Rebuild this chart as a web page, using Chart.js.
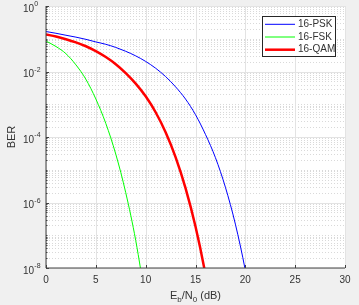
<!DOCTYPE html>
<html>
<head>
<meta charset="utf-8">
<script src="https://cdn.jsdelivr.net/npm/chart.js@4.4.0/dist/chart.umd.min.js"></script>
<style>
  html, body { margin: 0; padding: 0; background: #f0f0f0; }
  #wrap { width: 359px; height: 305px; }
</style>
</head>
<body>
<div id="wrap"><canvas id="ber-chart" width="359" height="305"></canvas></div>
<script>
// Eb/N0 (dB) grids for each curve
const ebnoPsk = [0, 1, 2, 3, 4, 5, 6, 7, 8, 9, 10, 11, 12, 13, 14, 15, 16, 17, 18, 19, 20, 21];
const ebnoFsk = [0, 1, 2, 3, 4, 5, 6, 7, 8, 9, 10];
const ebnoQam = [0, 1, 2, 3, 4, 5, 6, 7, 8, 9, 10, 11, 12, 13, 14, 15, 16, 17];

// BER values
const berPsk = [0.166, 0.147, 0.128, 0.112, 0.096, 0.080, 0.0677, 0.0543, 0.0414, 0.0300,
  0.0203, 0.0126, 7.0e-3, 3.4e-3, 1.44e-3, 4.8e-4, 1.2e-4, 2.34e-5, 2.93e-6, 2.19e-7,
  8.5e-9, 1.5e-10];
const berFsk = [0.085, 0.058, 0.035, 0.016, 5.8e-3, 1.45e-3, 2.6e-4, 3.0e-5, 2.0e-6, 7.0e-8, 1.0e-9];
const berQam = [0.135, 0.117, 0.097, 0.0776, 0.059, 0.042, 0.0276, 0.0167, 8.96e-3, 4.27e-3,
  1.75e-3, 5.7e-4, 1.39e-4, 2.43e-5, 2.76e-6, 1.84e-7, 6.3e-9, 9.0e-11];

const seriesNames = ["16-PSK", "16-FSK", "16-QAM"];
const seriesColors = ["#0000ff", "#00ff00", "#ff0000"];
const seriesWidths = [1, 1, 2.5];

// axis ticks
const xTicks = [0, 5, 10, 15, 20, 25, 30];
const yTickExps = [0, -2, -4, -6, -8];

const FONT = "'Liberation Sans', Arial, Helvetica, sans-serif";
const TEXT = "#333333";

function toPoints(xs, ys) {
  return xs.map((x, i) => ({ x, y: ys[i] }));
}

const matlabAxes = {
  id: "matlabAxes",
  beforeDraw(chart) {
    const { ctx, chartArea: a } = chart;
    ctx.save();
    ctx.fillStyle = "#f0f0f0";
    ctx.fillRect(0, 0, chart.width, chart.height);
    ctx.fillStyle = "#ffffff";
    ctx.fillRect(a.left, a.top, a.right - a.left, a.bottom - a.top);
    ctx.restore();
  },
  beforeDatasetsDraw(chart) {
    const { ctx, chartArea: a, scales } = chart;
    const sx = scales.x, sy = scales.y;
    ctx.save();
    // minor y grid (dotted)
    ctx.strokeStyle = "#d9d9d9";
    ctx.lineWidth = 1;
    ctx.setLineDash([1, 2]);
    for (let k = -8; k < 0; k++) {
      for (let m = 1; m <= 9; m++) {
        if (m === 1 && yTickExps.includes(k)) continue;
        const y = Math.round(sy.getPixelForValue(m * Math.pow(10, k))) + 0.5;
        ctx.beginPath();
        ctx.moveTo(a.left, y);
        ctx.lineTo(a.right, y);
        ctx.stroke();
      }
    }
    // major grid
    ctx.setLineDash([]);
    ctx.strokeStyle = "#e3e3e3";
    yTickExps.forEach((e) => {
      const y = Math.round(sy.getPixelForValue(Math.pow(10, e))) + 0.5;
      ctx.beginPath();
      ctx.moveTo(a.left, y);
      ctx.lineTo(a.right, y);
      ctx.stroke();
    });
    xTicks.forEach((t) => {
      const x = Math.round(sx.getPixelForValue(t)) + 0.5;
      ctx.beginPath();
      ctx.moveTo(x, a.top);
      ctx.lineTo(x, a.bottom);
      ctx.stroke();
    });
    ctx.restore();
  },
  afterDatasetsDraw(chart) {
    const { ctx, chartArea: a, scales } = chart;
    const sx = scales.x, sy = scales.y;
    ctx.save();

    // axis lines
    ctx.strokeStyle = "#404040";
    ctx.lineWidth = 1;
    ctx.beginPath();
    ctx.moveTo(a.left, a.top);
    ctx.lineTo(a.left, a.bottom);
    ctx.lineTo(a.right, a.bottom);
    ctx.stroke();

    // tick marks (inward)
    ctx.beginPath();
    xTicks.forEach((t) => {
      const x = Math.round(sx.getPixelForValue(t)) + 0.5;
      ctx.moveTo(x, a.bottom);
      ctx.lineTo(x, a.bottom - 3);
    });
    for (let k = -8; k <= 0; k++) {
      for (let m = 1; m <= 9; m++) {
        const v = m * Math.pow(10, k);
        if (v > 1) break;
        const y = Math.round(sy.getPixelForValue(v)) + 0.5;
        const major = m === 1 && yTickExps.includes(k);
        ctx.moveTo(a.left, y);
        ctx.lineTo(a.left + (major ? 3 : 1.5), y);
      }
    }
    ctx.stroke();

    // x tick labels
    ctx.fillStyle = TEXT;
    ctx.font = `10px ${FONT}`;
    ctx.textAlign = "center";
    ctx.textBaseline = "middle";
    xTicks.forEach((t) => {
      ctx.fillText(String(t), sx.getPixelForValue(t), a.bottom + 12);
    });

    // y tick labels 10^e
    yTickExps.forEach((e) => {
      const y = sy.getPixelForValue(Math.pow(10, e));
      ctx.font = `10px ${FONT}`;
      ctx.textAlign = "right";
      ctx.fillText("10", 34, y + 3);
      ctx.font = `7px ${FONT}`;
      ctx.textAlign = "left";
      ctx.fillText(String(e), 34.3, y - 1.5);
    });

    // x axis title: E_b/N_0 (dB)
    const parts = [["E", false], ["b", true], ["/N", false], ["0", true], [" (dB)", false]];
    const fontFor = (sub) => (sub ? `8px ${FONT}` : `11px ${FONT}`);
    let total = 0;
    parts.forEach(([s, sub]) => { ctx.font = fontFor(sub); total += ctx.measureText(s).width; });
    let cx = (a.left + a.right) / 2 - total / 2;
    ctx.textAlign = "left";
    parts.forEach(([s, sub]) => {
      ctx.font = fontFor(sub);
      ctx.fillText(s, cx, sub ? 300 : 296);
      cx += ctx.measureText(s).width;
    });

    // y axis title
    ctx.save();
    ctx.translate(12, (a.top + a.bottom) / 2);
    ctx.rotate(-Math.PI / 2);
    ctx.font = `11px ${FONT}`;
    ctx.textAlign = "center";
    ctx.fillText("BER", 0, 0);
    ctx.restore();

    // legend (top-right, inside the axes)
    const lx = 262.5, ly = 16.5, lw = 73, lh = 40;
    ctx.fillStyle = "#ffffff";
    ctx.fillRect(lx, ly, lw, lh);
    ctx.strokeStyle = "#262626";
    ctx.lineWidth = 1;
    ctx.strokeRect(lx, ly, lw, lh);
    ctx.font = `10px ${FONT}`;
    ctx.textAlign = "left";
    ctx.textBaseline = "middle";
    chart.data.datasets.forEach((ds, i) => {
      const y = 24.3 + i * 12.7;
      ctx.strokeStyle = ds.borderColor;
      ctx.lineWidth = ds.borderWidth;
      ctx.beginPath();
      ctx.moveTo(265, y);
      ctx.lineTo(295, y);
      ctx.stroke();
      ctx.fillStyle = TEXT;
      ctx.fillText(ds.label, 298, y);
    });

    ctx.restore();
  }
};

const datasets = [
  toPoints(ebnoPsk, berPsk),
  toPoints(ebnoFsk, berFsk),
  toPoints(ebnoQam, berQam)
].map((pts, i) => ({
  label: seriesNames[i],
  data: pts,
  borderColor: seriesColors[i],
  borderWidth: seriesWidths[i],
  pointRadius: 0,
  fill: false,
  cubicInterpolationMode: "monotone",
  clip: 0
}));

new Chart(document.getElementById("ber-chart"), {
  type: "line",
  data: { datasets },
  options: {
    responsive: false,
    animation: false,
    layout: { padding: { left: 46, top: 6, right: 14, bottom: 37 } },
    scales: {
      x: { type: "linear", min: 0, max: 30, display: false },
      y: { type: "logarithmic", min: 1e-8, max: 1, display: false }
    },
    plugins: {
      legend: { display: false },
      tooltip: { enabled: false }
    }
  },
  plugins: [matlabAxes]
});
</script>
</body>
</html>
